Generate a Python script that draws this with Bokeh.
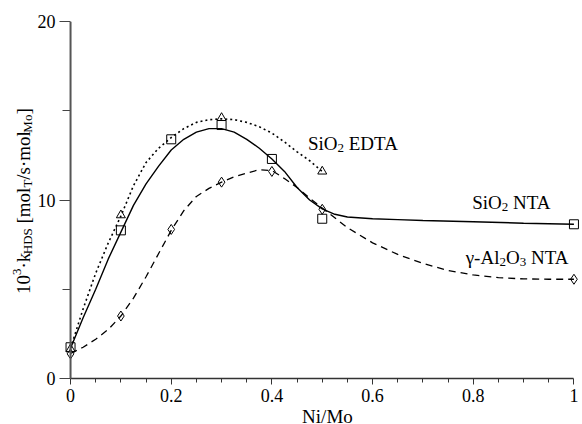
import math
from bokeh.plotting import figure
from bokeh.models import Range1d, FixedTicker, Label, Span
from bokeh.layouts import row, column
from bokeh.core.properties import value
from bokeh.embed import file_html
from bokeh.resources import INLINE

# ---------------- data ----------------
nta_x = [0, 0.1, 0.2, 0.3, 0.4, 0.5, 1.0]
nta_y = [1.75, 8.3, 13.4, 14.2, 12.3, 8.95, 8.64]
edta_x = [0, 0.1, 0.3, 0.5]
edta_y = [1.65, 9.15, 14.6, 11.6]
al_x = [0, 0.1, 0.2, 0.3, 0.4, 0.5, 1.0]
al_y = [1.38, 3.5, 8.35, 11.0, 11.6, 9.48, 5.56]

nta_curve_x = [0, 0.025, 0.05, 0.075, 0.1, 0.125, 0.15, 0.175, 0.2, 0.225, 0.25,
               0.275, 0.3, 0.325, 0.35, 0.375, 0.4, 0.425, 0.45, 0.475, 0.5,
               0.525, 0.55, 0.6, 0.65, 0.7, 0.8, 0.9, 1.0]
nta_curve_y = [1.7, 3.4, 5.0, 6.7, 8.2, 9.7, 10.9, 11.9, 12.8, 13.4, 13.8,
               14.0, 14.0, 13.8, 13.4, 12.9, 12.3, 11.6, 10.7, 10.0, 9.5,
               9.2, 9.05, 8.95, 8.9, 8.85, 8.78, 8.7, 8.64]

edta_curve_x = [0, 0.025, 0.05, 0.075, 0.1, 0.125, 0.15, 0.175, 0.2, 0.225, 0.25,
                0.275, 0.3, 0.325, 0.35, 0.375, 0.4, 0.425, 0.45, 0.475, 0.5]
edta_curve_y = [1.7, 3.9, 5.9, 7.6, 9.1, 10.8, 12.1, 12.9, 13.5, 14.0, 14.35,
                14.5, 14.55, 14.5, 14.35, 14.1, 13.75, 13.25, 12.7, 12.2, 11.6]

al_curve_x = [0, 0.025, 0.05, 0.075, 0.1, 0.125, 0.15, 0.175, 0.2, 0.225, 0.25,
              0.275, 0.3, 0.325, 0.35, 0.375, 0.4, 0.425, 0.45, 0.475, 0.5,
              0.55, 0.6, 0.65, 0.7, 0.75, 0.8, 0.85, 0.9, 0.95, 1.0]
al_curve_y = [1.4, 1.75, 2.2, 2.75, 3.5, 4.5, 5.7, 7.0, 8.3, 9.4, 10.2,
              10.65, 11.0, 11.3, 11.5, 11.7, 11.65, 11.2, 10.7, 10.1, 9.55,
              8.45, 7.6, 6.95, 6.45, 6.05, 5.8, 5.65, 5.58, 5.56, 5.56]

x_ticks = [0, 0.2, 0.4, 0.6, 0.8, 1.0]
x_tick_labels = ["0", "0.2", "0.4", "0.6", "0.8", "1"]
x_minor = [0.05, 0.1, 0.15, 0.25, 0.3, 0.35, 0.45, 0.5, 0.55, 0.65, 0.7, 0.75,
           0.85, 0.9, 0.95]
y_ticks = [0, 10, 20]
y_minor = [5, 15]

# ---------------- layout ----------------
W, H = 582, 424
LW = 34                 # width of the strip holding the y title
XH = 16                 # height of the strip holding the x title
MW, MH = W - LW, H - XH
BL, BR, BT, BB = 29, 1, 21, 30
XS, XE = -0.012, 1.015
YS, YE = 0, 20
FONT = "Liberation Serif"

p = figure(width=MW, height=MH, output_backend="svg", toolbar_location=None,
           x_range=Range1d(XS, XE), y_range=Range1d(YS, YE),
           min_border_left=BL, min_border_right=BR, min_border_top=BT,
           min_border_bottom=BB)
p.outline_line_color = None
p.xgrid.visible = False
p.ygrid.visible = False

F_L = LW + BL
F_W = MW - BL - BR
F_T = BT
F_H = MH - BT - BB
def dx(px):
    return XS + (px - F_L) / F_W * (XE - XS)
def dy(py):
    return YS + (F_T + F_H - py) / F_H * (YE - YS)

xa = p.xaxis[0]
xa.ticker = FixedTicker(ticks=x_ticks, minor_ticks=x_minor)
xa.major_label_overrides = {t: l for t, l in zip(x_ticks, x_tick_labels)}
xa.bounds = (0, 1)
xa.axis_line_color = "#333333"
xa.axis_line_width = 1.5
xa.major_tick_in = 0
xa.major_tick_out = 6
xa.minor_tick_in = 0
xa.minor_tick_out = 4
xa.major_tick_line_color = "#333333"
xa.minor_tick_line_color = "#333333"
xa.major_label_text_font = FONT
xa.major_label_text_font_size = "18px"
xa.major_label_text_color = "black"
xa.major_label_standoff = 4

ya = p.yaxis[0]
ya.ticker = FixedTicker(ticks=y_ticks, minor_ticks=y_minor)
ya.axis_line_color = None
ya.major_tick_in = 6
ya.major_tick_out = 5
ya.minor_tick_in = 6
ya.minor_tick_out = 2
ya.major_tick_line_color = "#444444"
ya.minor_tick_line_color = "#444444"
ya.major_label_text_font = FONT
ya.major_label_text_font_size = "18px"
ya.major_label_text_color = "black"
ya.major_label_standoff = 4

p.add_layout(Span(location=0, dimension="height", line_color="#555555",
                  line_width=2))

p.line(nta_curve_x, nta_curve_y, line_color="black", line_width=1.4)
p.line(edta_curve_x, edta_curve_y, line_color="black", line_width=1.6,
       line_dash="2 3")
p.line(al_curve_x, al_curve_y, line_color="black", line_width=1.3,
       line_dash="7 5")

p.scatter(nta_x, nta_y, marker="square", size=9, fill_color=None,
          line_color="black", line_width=1)
p.scatter(edta_x, edta_y, marker="triangle", size=9, fill_color=None,
          line_color="black", line_width=1)
p.scatter(al_x, al_y, marker="diamond", size=10, fill_color=None,
          line_color="black", line_width=1)

CW = {"0": .5, "1": .5, "2": .5, "3": .5, ".": .25, "\u00b7": .25, "k": .5,
      "H": .722, "D": .722, "S": .556, " ": .25, "[": .333, "]": .333,
      "m": .778, "o": .5, "l": .278, "T": .611, "/": .278, "s": .389,
      "M": .889, "i": .278, "O": .722, "E": .611, "A": .722, "N": .722,
      "\u03b3": .45, "-": .333}

def tw(s, size):
    return sum(CW.get(c, .5) for c in s) * size

N, S = 19, 13
VCORR = 7   # observed downward offset of the alphabetic baseline

def rich_main(pieces, px, py):
    pos = 0.0
    for text, size, shift in pieces:
        lead = len(text) - len(text.lstrip(" "))
        pos += tw(" " * lead, size)
        t = text.strip(" ")
        p.add_layout(Label(x=dx(px + pos), y=dy(py + shift - VCORR), text=t,
                           text_font=FONT, text_font_size=f"{size}px",
                           text_color="black", text_align="left",
                           text_baseline="alphabetic"))
        pos += tw(t, size)

rich_main([("SiO", N, 0), ("2", S, 4), (" EDTA", N, 0)], 307, 150)
rich_main([("SiO", N, 0), ("2", S, 4), (" NTA", N, 0)], 471.5, 209)
rich_main([("\u03b3-Al", N, 0), ("2", S, 4), ("O", N, 0), ("3", S, 4),
           (" NTA", N, 0)], 465, 264)

# ---------------- y title strip ----------------
yl = figure(width=LW, height=H, output_backend="svg", toolbar_location=None,
            x_range=Range1d(0, LW), y_range=Range1d(0, H),
            x_axis_location=None, y_axis_location=None, min_border=0)
yl.outline_line_color = None
yl.xgrid.visible = False
yl.ygrid.visible = False

ytitle = [("10", N, 0), ("3", S, -7), ("\u00b7k", N, 0), ("HDS", S, 4),
          (" [mol", N, 0), ("T", S, 4), ("/s\u00b7mol", N, 0), ("Mo", S, 4),
          ("]", N, 0)]
pos = 0.0
bx, by = 30 - VCORR, 293.5
for text, size, shift in ytitle:
    lead = len(text) - len(text.lstrip(" "))
    pos += tw(" " * lead, size)
    t = text.strip(" ")
    yl.text(x=[bx + shift], y=[H - (by - pos)], text=[t], angle=math.pi / 2,
            text_font=value(FONT), text_font_size=value(f"{size}px"),
            text_color="black", text_align="left",
            text_baseline="alphabetic")
    pos += tw(t, size)

# ---------------- x title strip ----------------
xl = figure(width=MW, height=XH, output_backend="svg", toolbar_location=None,
            x_range=Range1d(LW, W), y_range=Range1d(0, XH),
            x_axis_location=None, y_axis_location=None, min_border=0)
xl.outline_line_color = None
xl.xgrid.visible = False
xl.ygrid.visible = False
XOFF = 13   # observed horizontal offset of this strip
xl.text(x=[325.7 - XOFF], y=[H - (423 - VCORR)], text=["Ni/Mo"],
        text_font=value(FONT), text_font_size=value("19px"),
        text_color="black", text_align="center", text_baseline="alphabetic")

layout = row(yl, column(p, xl, spacing=0), spacing=0)
open("out.html", "w").write(file_html(layout, INLINE))
